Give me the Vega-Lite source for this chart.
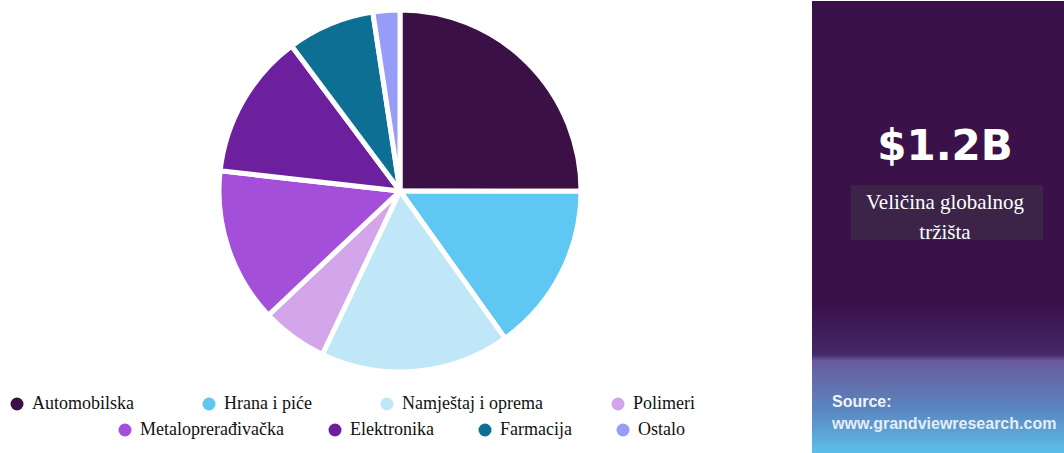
{
  "$schema": "https://vega.github.io/schema/vega-lite/v6.json",
  "padding": 0,
  "background": "white",
  "spacing": 12,
  "bounds": "flush",
  "config": {"view": {"stroke": null}},
  "hconcat": [
    {
      "width": 800,
      "height": 380,
      "data": {"values": [
        {"segment": "Automobilska", "share": 25.0, "rank": 1},
        {"segment": "Hrana i piće", "share": 15.1, "rank": 2},
        {"segment": "Namještaj i oprema", "share": 16.9, "rank": 3},
        {"segment": "Polimeri", "share": 5.9, "rank": 4},
        {"segment": "Metaloprerađivačka", "share": 13.8, "rank": 5},
        {"segment": "Elektronika", "share": 13.0, "rank": 6},
        {"segment": "Farmacija", "share": 7.8, "rank": 7},
        {"segment": "Ostalo", "share": 2.4, "rank": 8}
      ]},
      "resolve": {"scale": {"color": "independent"}, "legend": {"color": "independent"}},
      "layer": [
        {
          "mark": {"type": "arc", "outerRadius": 181, "stroke": "white", "strokeWidth": 5, "strokeJoin": "bevel"},
          "encoding": {
            "theta": {"field": "share", "type": "quantitative", "stack": true},
            "order": {"field": "rank", "type": "quantitative"},
            "color": {
              "field": "segment", "type": "nominal",
              "scale": {
                "domain": ["Automobilska", "Hrana i piće", "Namještaj i oprema", "Polimeri", "Metaloprerađivačka", "Elektronika", "Farmacija", "Ostalo"],
                "range": ["#3b1046", "#5ec8f2", "#bfe7f8", "#d3a6ec", "#a44fd9", "#6c209e", "#0e6f95", "#989cf9"]
              },
              "legend": {
                "values": ["Metaloprerađivačka", "Elektronika", "Farmacija", "Ostalo"],
                "orient": "none", "legendX": 116, "legendY": 420,
                "direction": "horizontal", "columns": 4, "title": null,
                "symbolType": "circle", "symbolSize": 169, "symbolStrokeWidth": 0, "symbolOpacity": 1,
                "labelFont": "Liberation Serif", "labelFontSize": 18, "labelColor": "#111111",
                "labelOffset": 6, "labelLimit": 400, "columnPadding": 42
              }
            }
          }
        },
        {
          "mark": {"type": "arc", "outerRadius": 181, "stroke": "white", "strokeWidth": 5, "strokeJoin": "bevel"},
          "encoding": {
            "theta": {"field": "share", "type": "quantitative", "stack": true},
            "order": {"field": "rank", "type": "quantitative"},
            "color": {
              "field": "segment", "type": "nominal",
              "scale": {
                "domain": ["Automobilska", "Hrana i piće", "Namještaj i oprema", "Polimeri", "Metaloprerađivačka", "Elektronika", "Farmacija", "Ostalo"],
                "range": ["#3b1046", "#5ec8f2", "#bfe7f8", "#d3a6ec", "#a44fd9", "#6c209e", "#0e6f95", "#989cf9"]
              },
              "legend": {
                "values": ["Automobilska", "Hrana i piće", "Namještaj i oprema", "Polimeri"],
                "orient": "none", "legendX": 8, "legendY": 394,
                "direction": "horizontal", "columns": 4, "title": null,
                "symbolType": "circle", "symbolSize": 169, "symbolStrokeWidth": 0, "symbolOpacity": 1,
                "labelFont": "Liberation Serif", "labelFontSize": 18, "labelColor": "#111111",
                "labelOffset": 6, "labelLimit": 400, "columnPadding": 66
              }
            }
          }
        }
      ]
    },
    {
      "width": 252,
      "height": 453,
      "view": {"fill": "#3a1249", "stroke": null},
      "data": {"values": [{}]},
      "layer": [
        {
          "mark": {"type": "rect", "x": 0, "x2": 252, "y": 305, "y2": 453,
            "color": {"gradient": "linear", "x1": 0, "y1": 0, "x2": 0, "y2": 1,
              "stops": [
                {"offset": 0, "color": "#3a1249"},
                {"offset": 0.33, "color": "#45286b"},
                {"offset": 0.37, "color": "#6a5a9c"},
                {"offset": 0.7, "color": "#5a86c0"},
                {"offset": 1, "color": "#5cc0ea"}
              ]}},
          "encoding": {}
        },
        {
          "mark": {"type": "text", "text": "$1.2B", "x": 133, "y": 159, "align": "center", "baseline": "alphabetic",
            "font": "DejaVu Sans", "fontWeight": "bold", "fontSize": 42, "color": "#ffffff"},
          "encoding": {}
        },
        {
          "mark": {"type": "rule", "x": 46, "x2": 220, "y": 175, "y2": 175, "color": "#b39ad0", "strokeWidth": 3},
          "encoding": {}
        },
        {
          "mark": {"type": "rect", "x": 39, "x2": 231, "y": 184, "y2": 239, "color": "#3b2448"},
          "encoding": {}
        },
        {
          "mark": {"type": "text", "text": "Veličina globalnog", "x": 133, "y": 208, "align": "center", "baseline": "alphabetic",
            "font": "Liberation Serif", "fontSize": 21, "color": "#ffffff"},
          "encoding": {}
        },
        {
          "mark": {"type": "text", "text": "tržišta", "x": 133, "y": 238, "align": "center", "baseline": "alphabetic",
            "font": "Liberation Serif", "fontSize": 21, "color": "#ffffff"},
          "encoding": {}
        },
        {
          "mark": {"type": "text", "text": "Source:", "x": 20, "y": 406, "align": "left", "baseline": "alphabetic",
            "font": "Liberation Sans", "fontWeight": "bold", "fontSize": 16, "color": "#f2f2f8"},
          "encoding": {}
        },
        {
          "mark": {"type": "text", "text": "www.grandviewresearch.com", "x": 20, "y": 428, "align": "left", "baseline": "alphabetic",
            "font": "Liberation Sans", "fontWeight": "bold", "fontSize": 16, "color": "#e6ecf6"},
          "encoding": {}
        }
      ]
    }
  ]
}
